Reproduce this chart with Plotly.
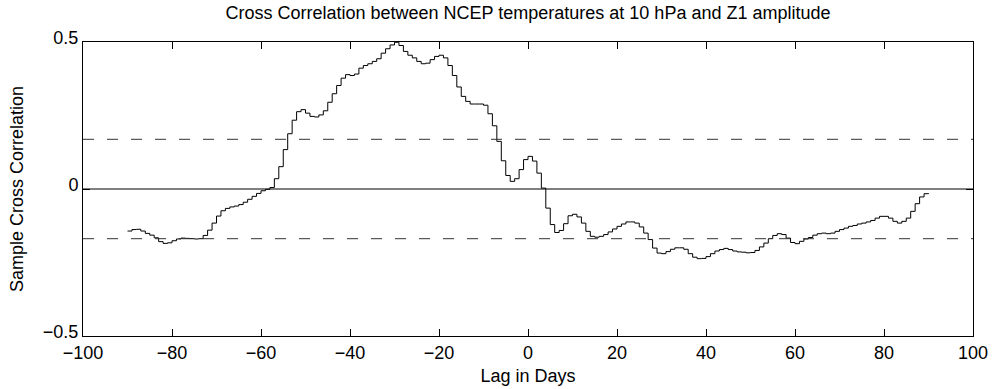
import plotly.graph_objects as go

# Lags (days) and sample cross-correlation values
lags = list(range(-90, 91))
xcorr = [
    -0.143, -0.138, -0.137, -0.143, -0.151, -0.157, -0.166, -0.179, -0.185, -0.183,
    -0.176, -0.170, -0.167, -0.168, -0.169, -0.170, -0.169, -0.158, -0.140, -0.116,
    -0.092, -0.074, -0.066, -0.061, -0.058, -0.053, -0.045, -0.035, -0.025, -0.015,
    -0.006, -0.001, 0.005, 0.035, 0.076, 0.134, 0.188, 0.234, 0.263, 0.270,
    0.258, 0.247, 0.245, 0.252, 0.266, 0.295, 0.324, 0.352, 0.377, 0.389,
    0.386, 0.391, 0.411, 0.420, 0.426, 0.434, 0.443, 0.462, 0.477, 0.490,
    0.499, 0.488, 0.468, 0.455, 0.446, 0.434, 0.426, 0.428, 0.440, 0.451,
    0.455, 0.446, 0.420, 0.386, 0.347, 0.315, 0.298, 0.289, 0.289, 0.289,
    0.285, 0.256, 0.215, 0.162, 0.096, 0.046, 0.026, 0.035, 0.066, 0.100,
    0.111, 0.095, 0.054, 0.003, -0.065, -0.121, -0.148, -0.141, -0.118, -0.091,
    -0.086, -0.095, -0.116, -0.144, -0.161, -0.164, -0.161, -0.155, -0.146, -0.136,
    -0.127, -0.119, -0.112, -0.112, -0.116, -0.129, -0.150, -0.172, -0.201, -0.218,
    -0.220, -0.213, -0.205, -0.200, -0.200, -0.205, -0.220, -0.232, -0.237, -0.236,
    -0.230, -0.220, -0.211, -0.206, -0.202, -0.206, -0.211, -0.214, -0.215, -0.217,
    -0.216, -0.209, -0.197, -0.184, -0.169, -0.158, -0.152, -0.155, -0.167, -0.182,
    -0.186, -0.178, -0.170, -0.165, -0.157, -0.152, -0.150, -0.152, -0.150, -0.144,
    -0.138, -0.133, -0.127, -0.124, -0.119, -0.116, -0.112, -0.107, -0.099, -0.093,
    -0.093, -0.099, -0.110, -0.116, -0.110, -0.099, -0.076, -0.050, -0.027, -0.016,
    -0.014,
]

# 95% confidence bound for zero correlation
conf_bound = 0.169

x_ticks = [-100, -80, -60, -40, -20, 0, 20, 40, 60, 80, 100]
y_ticks = [-0.5, 0, 0.5]
y_ticktext = ["\u22120.5", "0", "0.5"]

FONT = "Liberation Sans, Arial, Helvetica, sans-serif"
FS = 18

fig = go.Figure()

# zero reference and confidence bounds
fig.add_hline(y=0, line=dict(color="black", width=1))
for b in (conf_bound, -conf_bound):
    fig.add_hline(y=b, line=dict(color="#333333", width=1, dash="11px,13px"))

fig.add_trace(go.Scatter(
    x=lags, y=xcorr, mode="lines",
    line=dict(color="black", width=1, shape="hv"),
    showlegend=False, hoverinfo="x+y",
))

axis_common = dict(
    showgrid=False, zeroline=False, automargin=False,
    showline=True, linecolor="black", linewidth=1, mirror="ticks",
    ticks="inside", ticklen=7, tickcolor="black", tickwidth=1,
    tickfont=dict(family=FONT, size=FS, color="black"),
)

fig.update_layout(
    width=992, height=389,
    margin=dict(l=83, r=19, t=42, b=53),
    paper_bgcolor="white", plot_bgcolor="white",
    font=dict(family=FONT, size=FS, color="black"),
    title=dict(
        text="Cross Correlation between NCEP temperatures at 10 hPa and Z1 amplitude",
        x=(83 + 445) / 992, xanchor="center", xref="container",
        y=1 - 13 / 389, yanchor="middle", yref="container",
        font=dict(family=FONT, size=FS, color="black"),
    ),
    xaxis=dict(
        range=[-100, 100], tickvals=x_ticks, ticklabelstandoff=0,
        title=dict(text="Lag in Days", standoff=7,
                   font=dict(family=FONT, size=FS, color="black")),
        **axis_common,
    ),
    yaxis=dict(
        range=[-0.5, 0.5], tickvals=y_ticks, ticktext=y_ticktext,
        ticklabelshift=-4,
        title=dict(text="Sample Cross Correlation", standoff=14,
                   font=dict(family=FONT, size=FS, color="black")),
        **axis_common,
    ),
)

fig.write_html("out.html")
